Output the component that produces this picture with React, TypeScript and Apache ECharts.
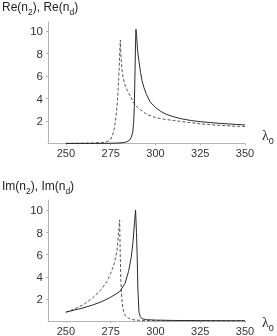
import React, { useEffect, useRef } from "react";
import * as echarts from "echarts";

// Top panel: Re(n2) (solid) and Re(nd) (dashed)
const reSolidX = [250, 270, 278, 282, 284, 285.5, 286.5, 287.3, 287.8, 288.2, 288.6, 288.9, 289.1, 289.5, 290, 290.8, 291.7, 292.5, 293.5, 295, 297, 300, 303, 306, 310, 315, 320, 325, 335, 350];
const reSolidY = [0, 0.01, 0.03, 0.08, 0.15, 0.3, 0.55, 1.0, 1.8, 3.2, 6.5, 9, 10.15, 9.5, 8.3, 7.3, 6.3, 5.6, 5.0, 4.35, 3.7, 3.2, 2.85, 2.6, 2.38, 2.18, 2.04, 1.94, 1.8, 1.65];
const reDashX = [250, 260, 265, 270, 272, 273.5, 275, 276, 277, 278, 278.8, 279.5, 280, 280.4, 280.8, 281.3, 282, 283, 284, 286, 288, 290, 292, 295, 300, 305, 310, 318, 325, 335, 350];
const reDashY = [0.02, 0.03, 0.05, 0.08, 0.12, 0.2, 0.4, 0.7, 1.3, 2.4, 3.8, 5.8, 7.8, 9.2, 7.6, 6.6, 5.8, 5.2, 4.8, 4.2, 3.6, 3.2, 2.95, 2.6, 2.3, 2.15, 2.05, 1.88, 1.75, 1.62, 1.5];

// Bottom panel: Im(n2) (solid) and Im(nd) (dashed)
const imSolidX = [250, 255, 260, 265, 270, 275, 280, 283, 285, 286.5, 287.5, 288.3, 288.9, 289.4, 289.8, 290.2, 290.8, 291.5, 292.6, 295, 300, 310, 330, 350];
const imSolidY = [0.8, 1.0, 1.2, 1.45, 1.75, 2.15, 2.65, 3.4, 4.5, 5.8, 7.2, 8.9, 10.05, 8.0, 5.9, 2.9, 0.8, 0.4, 0.2, 0.12, 0.08, 0.05, 0.03, 0.02];
const imDashX = [250, 255, 260, 265, 270, 273, 275, 277, 278.5, 279.3, 280, 280.3, 280.7, 281.2, 282, 283, 285, 288, 292, 300, 310, 350];
const imDashY = [0.8, 1.1, 1.5, 2.1, 2.9, 3.6, 4.3, 5.2, 6.3, 7.8, 9.15, 6.2, 3.6, 2.0, 1.0, 0.5, 0.25, 0.1, 0.05, 0.03, 0.02, 0.01];

const xTicks = [250, 275, 300, 325, 350];
const yTicks = [2, 4, 6, 8, 10];

const zip = (xs: number[], ys: number[]) => xs.map((x, i) => [x, ys[i]]);

export default function App() {
  const ref = useRef<HTMLDivElement>(null);
  useEffect(() => {
    if (!ref.current) return;
    const chart = echarts.init(ref.current, null, { renderer: "svg" });
    const font = "Liberation Sans, Arial, sans-serif";
    const axisLine = { lineStyle: { color: "#b4b4b4", width: 1 } };
    const xAxisBase = {
      type: "value" as const,
      min: 240,
      max: 350,
      axisLine: { ...axisLine, onZero: false },
      axisTick: { show: true, length: 2, lineStyle: { color: "#b4b4b4" }, customValues: xTicks },
      axisLabel: { customValues: xTicks, fontSize: 11, color: "#333", fontFamily: font, margin: 4 },
      splitLine: { show: false },
    };
    const yAxisBase = (max: number) => ({
      type: "value" as const,
      min: 0,
      max,
      axisLine: { show: true, ...axisLine },
      axisTick: { show: true, length: 2, lineStyle: { color: "#b4b4b4" }, customValues: yTicks },
      axisLabel: { customValues: yTicks, fontSize: 11.5, color: "#333", fontFamily: font, margin: 5 },
      splitLine: { show: false },
    });
    const solid = { color: "#2a2a2a", width: 1 };
    const dashed = { color: "#555", width: 1, type: [3, 2] as number[] };
    const titleRich = {
      m: { fontSize: 12, fontFamily: font, fill: "#222", lineHeight: 14, verticalAlign: "bottom" },
      s: { fontSize: 8.5, fontFamily: font, fill: "#222", lineHeight: 14, verticalAlign: "bottom", padding: [0, 0, -3, 0] },
    };
    const lamRich = {
      m: { fontSize: 14, fontFamily: "Liberation Serif, serif", fill: "#222", lineHeight: 14, verticalAlign: "bottom" },
      s: { fontSize: 9, fontFamily: font, fill: "#222", lineHeight: 14, verticalAlign: "bottom", padding: [0, 0, -3, 0] },
    };
    chart.setOption({
      animation: false,
      grid: [
        { left: 48, top: 22, width: 197, height: 121.5 },
        { left: 48, top: 200, width: 197, height: 122.5 },
      ],
      xAxis: [
        { ...xAxisBase, gridIndex: 0 },
        { ...xAxisBase, gridIndex: 1 },
      ],
      yAxis: [
        { ...yAxisBase(10.8), gridIndex: 0 },
        { ...yAxisBase(10.95), gridIndex: 1 },
      ],
      series: [
        { type: "line", xAxisIndex: 0, yAxisIndex: 0, data: zip(reDashX, reDashY), showSymbol: false, lineStyle: dashed, silent: true },
        { type: "line", xAxisIndex: 0, yAxisIndex: 0, data: zip(reSolidX, reSolidY), showSymbol: false, lineStyle: solid, silent: true },
        { type: "line", xAxisIndex: 1, yAxisIndex: 1, data: zip(imDashX, imDashY), showSymbol: false, lineStyle: dashed, silent: true },
        { type: "line", xAxisIndex: 1, yAxisIndex: 1, data: zip(imSolidX, imSolidY), showSymbol: false, lineStyle: solid, silent: true },
      ],
      graphic: [
        { type: "text", left: 2, top: 1, style: { text: "{m|Re(n}{s|2}{m|), Re(n}{s|d}{m|)}", rich: titleRich } },
        { type: "text", left: 2, top: 180, style: { text: "{m|Im(n}{s|2}{m|), Im(n}{s|d}{m|)}", rich: titleRich } },
        { type: "text", left: 262, top: 128, style: { text: "{m|λ}{s|0}", rich: lamRich } },
        { type: "text", left: 262, top: 315, style: { text: "{m|λ}{s|0}", rich: lamRich } },
      ],
    });
    return () => chart.dispose();
  }, []);
  return <div ref={ref} style={{ position: "fixed", left: 0, top: 0, width: 277, height: 336 }} />;
}
